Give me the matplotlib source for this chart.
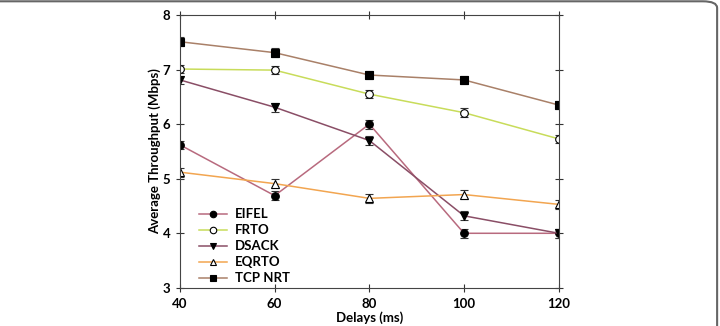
import numpy as np
import matplotlib.pyplot as plt
from matplotlib.patches import FancyBboxPatch

plt.rcParams['font.family'] = ['Lato', 'DejaVu Sans']
plt.rcParams['font.weight'] = 'bold'

delays = [40, 60, 80, 100, 120]
eifel = [5.62, 4.69, 6.0, 4.0, 4.0]
frto = [7.01, 6.99, 6.55, 6.21, 5.73]
dsack = [6.81, 6.31, 5.70, 4.32, 4.0]
eqrto = [5.12, 4.91, 4.64, 4.71, 4.53]
tcp_nrt = [7.51, 7.31, 6.90, 6.81, 6.35]
err = [0.08, 0.08, 0.08, 0.08, 0.08]

series = [
    ("EIFEL", eifel, '#b86a7e', 'o', 'black'),
    ("FRTO", frto, '#c8dc5a', 'o', 'white'),
    ("DSACK", dsack, '#8a4e66', 'v', 'black'),
    ("EQRTO", eqrto, '#f2a550', '^', 'white'),
    ("TCP NRT", tcp_nrt, '#a98068', 's', 'black'),
]

fig = plt.figure(figsize=(7.2, 3.26), dpi=100)
ax = fig.add_axes([0.25, 0.117, 0.526, 0.837])

for name, vals, col, mk, fc in series:
    ax.errorbar(delays, vals, yerr=err, color=col, lw=1.1, marker=mk, ms=5.5,
                mfc=fc, mec='black', mew=0.8, ecolor='#333333', elinewidth=0.8,
                capsize=3, capthick=0.8, label=name)

ax.set_xlim(40, 120)
ax.set_ylim(3, 8)
ax.set_xticks(delays)
ax.set_yticks([3, 4, 5, 6, 7, 8])
ax.tick_params(direction='inout', length=6, width=0.8, color='#333333',
               top=True, right=True, labelsize=9.5, pad=4)
for s in ax.spines.values():
    s.set_color('#444444')
    s.set_linewidth(0.8)

ax.set_xlabel("Delays (ms)", fontsize=9.5, fontweight='bold', labelpad=1)
ax.set_ylabel("Average Throughput (Mbps)", fontsize=9.5, fontweight='bold', labelpad=1)

handles, labels = ax.get_legend_handles_labels()
handles = [h[0] for h in handles]
ax.legend(handles, labels, loc='lower left', bbox_to_anchor=(0.02, -0.03),
          frameon=False, fontsize=9.5, handlelength=2.1, handletextpad=0.6,
          labelspacing=0.3, markerscale=0.85)

frame = FancyBboxPatch((-0.05, -0.2), 1.046, 1.196, transform=fig.transFigure,
                       boxstyle="round,pad=0,rounding_size=0.02",
                       fc='none', ec='#666666', lw=1.5, clip_on=False)
fig.patches.append(frame)

fig.savefig("out.png", dpi=100)
